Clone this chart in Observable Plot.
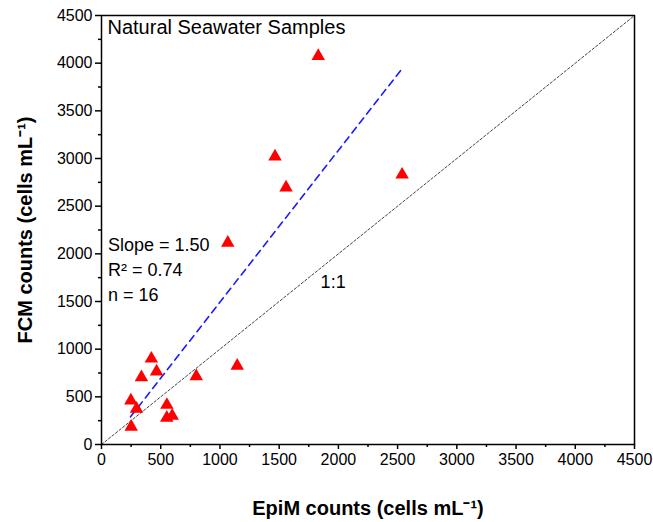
<!DOCTYPE html>
<html>
<head>
<meta charset="utf-8">
<script src="https://cdn.jsdelivr.net/npm/d3@7"></script>
<script src="https://cdn.jsdelivr.net/npm/@observablehq/plot@0.6"></script>
<style>
  html, body { margin: 0; padding: 0; background: #fff; }
  svg { font-family: "Liberation Sans", Arial, sans-serif; }
</style>
</head>
<body>
<div id="chart"></div>
<script>
// EpiM counts (x) and FCM counts (y), cells mL^-1
const epim = [1830, 1465, 1558, 2538, 1066, 1146, 800, 421, 465, 337, 248, 296, 552, 551, 597, 251];
const fcm  = [4075, 3020, 2695, 2830, 2115, 825, 715, 900, 765, 705, 460, 375, 415, 280, 300, 185];

// fitted regression line (as drawn) and 1:1 line
const fitX = [245, 2530];
const fitY = [290, 3930];
const oneX = [0, 4500];
const oneY = [0, 4500];

const majorTicks = [0, 500, 1000, 1500, 2000, 2500, 3000, 3500, 4000, 4500];
const minorTicks = [250, 750, 1250, 1750, 2250, 2750, 3250, 3750, 4250];

const title = "Natural Seawater Samples";
const statLabels = ["Slope = 1.50", "R\u00B2 = 0.74", "n = 16"];
const statY = [2090, 1825, 1565];
const oneLabel = "1:1";

const pts = epim.map((x, i) => ({x, y: fcm[i]}));
const fit = fitX.map((x, i) => ({x, y: fitY[i]}));
const one = oneX.map((x, i) => ({x, y: oneY[i]}));
const stats = statLabels.map((t, i) => ({t, y: statY[i]}));

const chart = Plot.plot({
  width: 653,
  height: 522,
  marginLeft: 101,
  marginRight: 19,
  marginTop: 15,
  marginBottom: 78,
  style: {fontFamily: "'Liberation Sans', Arial, sans-serif", fontSize: "16px", color: "#000", background: "#fff"},
  x: {domain: [0, 4500]},
  y: {domain: [0, 4500]},
  marks: [
    Plot.line(one, {x: "x", y: "y", stroke: "#444", strokeWidth: 1, strokeDasharray: "2.5,2"}),
    Plot.line(fit, {x: "x", y: "y", stroke: "#1a1aff", strokeWidth: 1.6, strokeDasharray: "7,5"}),
    Plot.dot(pts, {x: "x", y: "y", symbol: "triangle", r: 5, fill: "#ff0000", stroke: "none"}),
    Plot.axisX({ticks: majorTicks, tickSize: 5, tickPadding: 4, tickFormat: d => String(d), fontSize: 16, label: null, stroke: "#000", strokeWidth: 1.5}),
    Plot.axisX({ticks: minorTicks, tickSize: 3, tickFormat: () => "", label: null, stroke: "#000", strokeWidth: 1.5}),
    Plot.axisY({ticks: majorTicks, tickSize: 6, tickPadding: 3, tickFormat: d => String(d), fontSize: 16, label: null, stroke: "#000", strokeWidth: 1.5}),
    Plot.axisY({ticks: minorTicks, tickSize: 3, tickFormat: () => "", label: null, stroke: "#000", strokeWidth: 1.5}),
    Plot.frame({stroke: "#000", strokeWidth: 1.5}),
    Plot.text([title], {frameAnchor: "top-left", dx: 6, dy: 4, text: d => d, fontSize: 20, textAnchor: "start", fill: "#000"}),
    Plot.text(stats, {x: 55, y: "y", text: "t", fontSize: 18, textAnchor: "start", fill: "#000"}),
    Plot.text([oneLabel], {x: 1850, y: 1700, text: d => d, fontSize: 18, textAnchor: "start", fill: "#000"}),
    Plot.text(["EpiM counts (cells mL\u207B\u00B9)"], {frameAnchor: "bottom", dy: 64, lineAnchor: "middle", text: d => d, fontSize: 20, fontWeight: "bold", fill: "#000"}),
    Plot.text(["FCM counts (cells mL\u207B\u00B9)"], {frameAnchor: "left", dx: -76, rotate: -90, textAnchor: "middle", lineAnchor: "middle", text: d => d, fontSize: 20, fontWeight: "bold", fill: "#000"})
  ]
});
document.getElementById("chart").appendChild(chart);
</script>
</body>
</html>
